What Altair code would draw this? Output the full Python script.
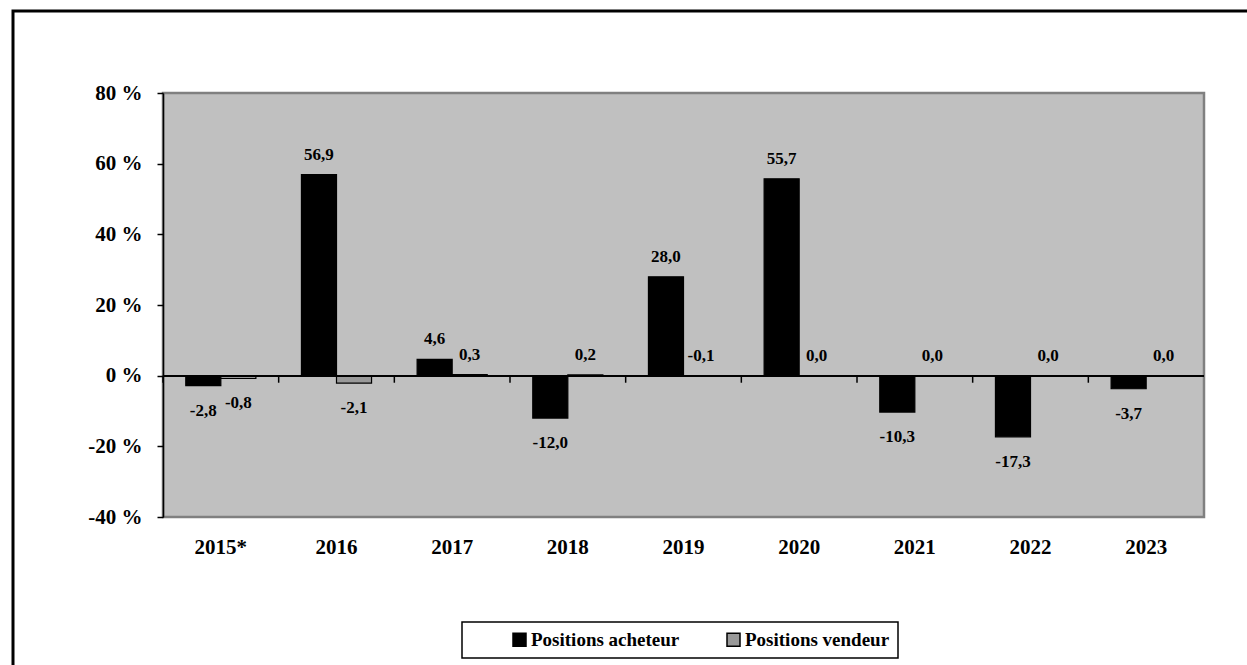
import altair as alt
import pandas as pd

years = ["2015*", "2016", "2017", "2018", "2019", "2020", "2021", "2022", "2023"]
acheteur = [-2.8, 56.9, 4.6, -12.0, 28.0, 55.7, -10.3, -17.3, -3.7]
vendeur = [-0.8, -2.1, 0.3, 0.2, -0.1, 0.0, 0.0, 0.0, 0.0]
series = ["Positions acheteur", "Positions vendeur"]
colors = ["#000000", "#999999"]
y_ticks = [-40, -20, 0, 20, 40, 60, 80]

rows = []
for i, yr in enumerate(years):
    rows.append({"year": yr, "series": series[0], "value": acheteur[i]})
    rows.append({"year": yr, "series": series[1], "value": vendeur[i]})
df = pd.DataFrame(rows)

FONT = "Liberation Serif"
W, H = 1041, 424

x = alt.X("year:N", sort=years,
          scale=alt.Scale(paddingInner=0, paddingOuter=0),
          axis=alt.Axis(title=None, labelAngle=0, ticks=False, domain=False,
                        labelFont=FONT, labelFontWeight="bold", labelFontSize=21,
                        labelColor="black", labelPadding=19))
y = alt.Y("value:Q", scale=alt.Scale(domain=[-40, 80], nice=False),
          axis=alt.Axis(title=None, values=y_ticks, labelExpr="datum.value + ' %'",
                        grid=False, domainColor="black", domainWidth=1.5,
                        tickColor="black", tickSize=6, tickWidth=1.5,
                        labelFont=FONT, labelFontWeight="bold", labelFontSize=21,
                        labelColor="black", labelPadding=15))
xo = alt.XOffset("series:N", sort=series,
                 scale=alt.Scale(paddingInner=0, paddingOuter=0.65))
color = alt.Color("series:N", sort=series,
                  scale=alt.Scale(domain=series, range=colors),
                  legend=alt.Legend(
                      title=None, orient="none", legendX=299, legendY=529,
                      direction="horizontal", labelFont=FONT,
                      labelExpr="datum.label + (datum.label == 'Positions vendeur' ? '\u00a0\u00a0\u00a0\u00a0\u00a0\u00a0\u00a0' : '')"))

base = alt.Chart(df)

bars = base.mark_bar(stroke="black", strokeWidth=1.2).encode(
    x=x, xOffset=xo, y=y, y2=alt.datum(0), color=color)

zero = base.mark_rule(color="black", strokeWidth=1.5).encode(y=alt.datum(0))

ticks = alt.Chart(pd.DataFrame({"year": years})).mark_rule(color="black", strokeWidth=1.5).encode(
    x=alt.X("year:N", sort=years, bandPosition=0),
    y=alt.datum(0), y2=alt.datum(-2.0))

lab = base.transform_calculate(
    label="(datum.value < 0 ? '-' : '') + replace(format(abs(datum.value), '.1f'), '.', ',')")
text_style = dict(font=FONT, fontSize=17, fontWeight="bold", color="black", baseline="middle")
above = lab.transform_filter("datum.value > -0.5").mark_text(dy=-20, **text_style).encode(
    x=x, xOffset=xo, y=y, text="label:N")
below = lab.transform_filter("datum.value <= -0.5").mark_text(dy=25, **text_style).encode(
    x=x, xOffset=xo, y=y, text="label:N")

frame = alt.Chart(pd.DataFrame({"a": [0]})).mark_rect(
    filled=False, stroke="black", strokeWidth=3).encode(
    x=alt.value(-150), x2=alt.value(1100), y=alt.value(-82), y2=alt.value(600))

chart = alt.layer(bars, zero, ticks, above, below, frame).properties(
    width=W, height=H,
    autosize=alt.AutoSizeParams(type="none"),
    padding={"left": 163, "top": 93, "right": 43, "bottom": 148},
    background="white",
).configure(
    font=FONT
).configure_view(
    fill="#c0c0c0", stroke="#808080", strokeWidth=2.5
).configure_legend(
    strokeColor="black", strokeWidth=1.5, padding=8,
    symbolType="square", symbolSize=169,
    symbolStrokeColor="black", symbolStrokeWidth=1.5,
    labelFont=FONT, labelFontSize=19, labelFontWeight="bold",
    labelColor="black", columnPadding=4, symbolOffset=40, labelOffset=2,
    labelLimit=400,
)

chart.save("out.html", embed_options={"renderer": "svg", "actions": False})
